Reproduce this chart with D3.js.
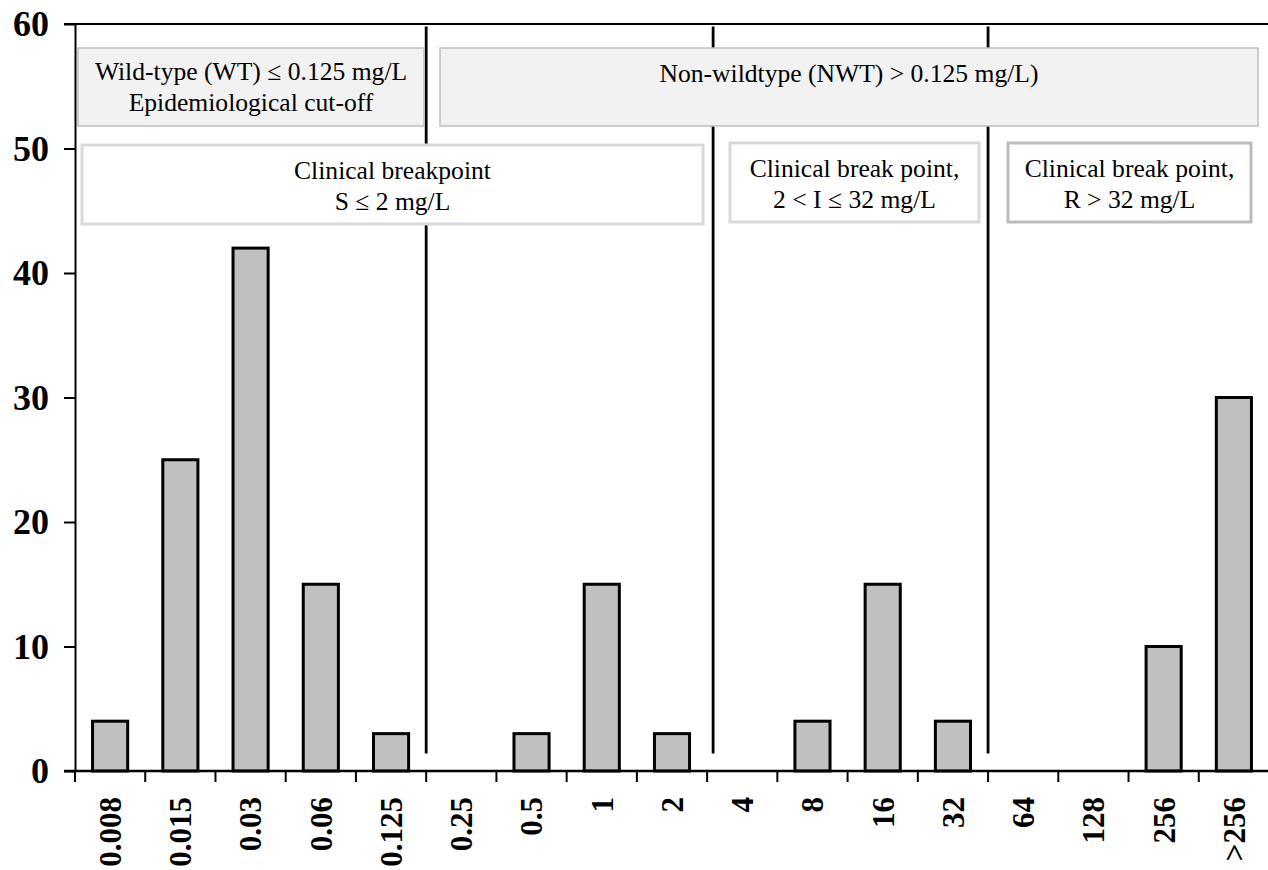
<!DOCTYPE html>
<html>
<head>
<meta charset="utf-8">
<script src="https://cdn.jsdelivr.net/npm/d3@7"></script>
<style>
  html, body { margin: 0; padding: 0; background: #fff; }
  svg { display: block; }
  svg text { font-family: "Liberation Serif", "Times New Roman", serif; }
</style>
</head>
<body>
<div id="chart"></div>
<script>
// MIC values (mg/L) and number of isolates
const categories = ["0.008", "0.015", "0.03", "0.06", "0.125", "0.25", "0.5", "1", "2",
                    "4", "8", "16", "32", "64", "128", "256", ">256"];
const counts = [4, 25, 42, 15, 3, 0, 3, 15, 3, 0, 4, 15, 4, 0, 0, 10, 30];
const yTicks = [0, 10, 20, 30, 40, 50, 60];
// vertical separators drawn just before these categories
const dividers = ["0.25", "4", "64"];

const serif = '"Liberation Serif", "Times New Roman", serif';
const width = 1268, height = 870;
const plotLeft = 75, plotRight = 1269, plotTop = 24, plotBottom = 771;

const svg = d3.select('#chart')
  .append('svg')
  .attr('width', width)
  .attr('height', height);

const x = d3.scaleBand()
  .domain(categories)
  .range([plotLeft, plotRight])
  .paddingInner(0.5)
  .paddingOuter(0.25);

const y = d3.scaleLinear()
  .domain([0, 60])
  .range([plotBottom, plotTop]);

const step = x.step();
const edge = c => x(c) - step * 0.25;

const barData = categories
  .map((c, i) => ({ cat: c, value: counts[i] }))
  .filter(d => d.value > 0);

// bars
svg.append('g')
  .selectAll('rect')
  .data(barData)
  .enter()
  .append('rect')
  .attr('x', d => x(d.cat))
  .attr('y', d => y(d.value))
  .attr('width', x.bandwidth())
  .attr('height', d => y(0) - y(d.value))
  .attr('fill', '#c0c0c0')
  .attr('stroke', '#000')
  .attr('stroke-width', 3);

// separators
svg.append('g')
  .selectAll('line')
  .data(dividers)
  .enter()
  .append('line')
  .attr('x1', d => edge(d) + (d === '4' ? 6 : 0))
  .attr('x2', d => edge(d) + (d === '4' ? 6 : 0))
  .attr('y1', y(59.8))
  .attr('y2', y(1.4))
  .attr('stroke', '#000')
  .attr('stroke-width', 2.8);

// top border
svg.append('line')
  .attr('x1', plotLeft - 11).attr('x2', width)
  .attr('y1', y(60)).attr('y2', y(60))
  .attr('stroke', '#000').attr('stroke-width', 2);

// y axis
const yAxis = svg.append('g')
  .attr('transform', `translate(${plotLeft},0)`)
  .call(d3.axisLeft(y).tickValues(yTicks).tickSize(11).tickPadding(15).tickSizeOuter(0));
yAxis.attr('font-family', null);
yAxis.select('.domain').attr('stroke-width', 2);
yAxis.selectAll('.tick line').attr('stroke-width', 2);
yAxis.selectAll('.tick text')
  .style('font-family', serif)
  .attr('font-size', 36)
  .attr('font-weight', 'bold')
  .attr('fill', '#000');

// x axis line
svg.append('line')
  .attr('x1', plotLeft - 11).attr('x2', width)
  .attr('y1', y(0)).attr('y2', y(0))
  .attr('stroke', '#000').attr('stroke-width', 2.5);

// boundary ticks
svg.append('g')
  .selectAll('line')
  .data(categories)
  .enter()
  .append('line')
  .attr('x1', d => edge(d))
  .attr('x2', d => edge(d))
  .attr('y1', y(0))
  .attr('y2', y(0) + 11)
  .attr('stroke', '#000')
  .attr('stroke-width', 2);

// x labels
svg.append('g')
  .selectAll('text')
  .data(categories)
  .enter()
  .append('text')
  .attr('transform', d => `translate(${x(d) + x.bandwidth() / 2},797) rotate(-90)`)
  .attr('dy', '0.35em')
  .attr('text-anchor', 'end')
  .style('font-family', serif)
  .attr('font-size', 31)
  .attr('font-weight', 'bold')
  .text(d => d);

// annotation boxes
const boxes = [
  { x0: 78, x1: 424, y0: 48, y1: 126, fill: '#f2f2f2', stroke: '#bfbfbf', sw: 1.5,
    lines: ['Wild-type (WT) \u2264 0.125 mg/L', 'Epidemiological cut-off'], base: 80 },
  { x0: 440, x1: 1258, y0: 48, y1: 126, fill: '#f2f2f2', stroke: '#bfbfbf', sw: 1.5,
    lines: ['Non-wildtype (NWT) > 0.125 mg/L)'], base: 82 },
  { x0: 82, x1: 703, y0: 145, y1: 224, fill: '#fff', stroke: '#d9d9d9', sw: 3,
    lines: ['Clinical breakpoint', 'S \u2264 2 mg/L'], base: 179 },
  { x0: 730, x1: 979, y0: 143, y1: 222, fill: '#fff', stroke: '#d9d9d9', sw: 3,
    lines: ['Clinical break point,', '2 < I \u2264 32 mg/L'], base: 177 },
  { x0: 1008, x1: 1251, y0: 143, y1: 222, fill: '#fff', stroke: '#bcbcbc', sw: 3,
    lines: ['Clinical break point,', 'R > 32 mg/L'], base: 177 }
];

const bx = svg.append('g')
  .selectAll('g')
  .data(boxes)
  .enter()
  .append('g');

bx.append('rect')
  .attr('x', d => d.x0)
  .attr('y', d => d.y0)
  .attr('width', d => d.x1 - d.x0)
  .attr('height', d => d.y1 - d.y0)
  .attr('fill', d => d.fill)
  .attr('stroke', d => d.stroke)
  .attr('stroke-width', d => d.sw);

bx.each(function (d) {
  d3.select(this).selectAll('text')
    .data(d.lines)
    .enter()
    .append('text')
    .attr('x', (d.x0 + d.x1) / 2)
    .attr('y', (t, i) => d.base + i * 31)
    .attr('text-anchor', 'middle')
    .style('font-family', serif)
    .attr('font-size', 25.6)
    .attr('fill', '#000')
    .text(t => t);
});
</script>
</body>
</html>
